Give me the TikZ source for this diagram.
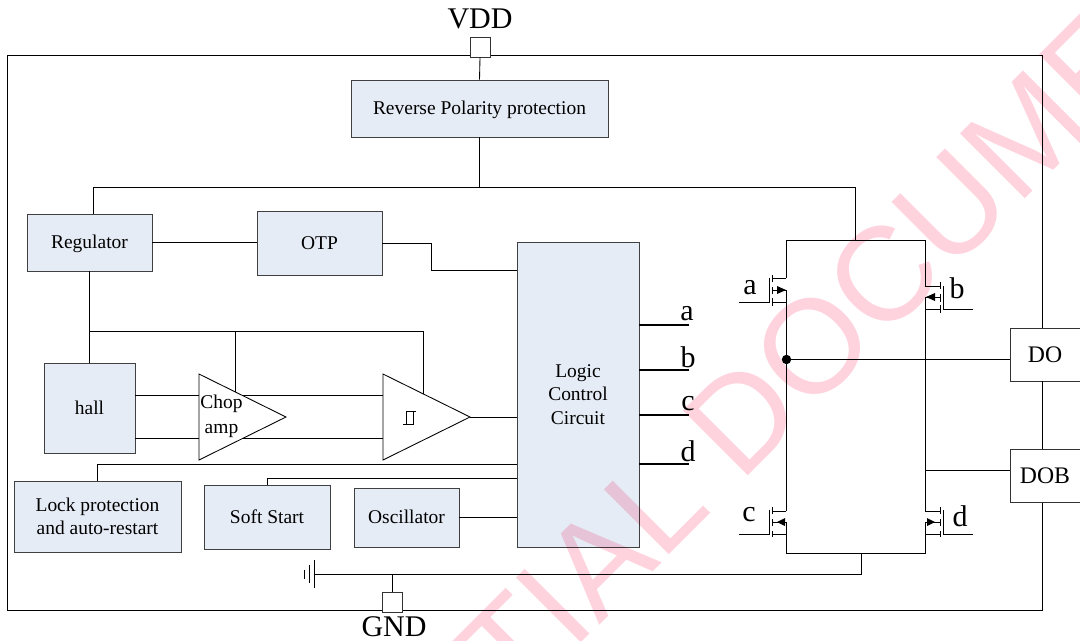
\documentclass[tikz,border=0pt]{standalone}
\usepackage{fontspec}
\setmainfont{Liberation Serif}
\newfontfamily\markfont{Liberation Sans}
\definecolor{blockfill}{HTML}{E6ECF6}
\definecolor{blockline}{HTML}{404040}
\definecolor{markpink}{HTML}{FFD3DE}
\tikzset{
  boxsize/.style 2 args={minimum width=#1*0.75pt,minimum height=#2*0.75pt},
  onelinebox/.style={draw=blockline,fill=blockfill,line width=0.7pt,inner sep=0pt,text height=9pt,text depth=0pt,font=\fontsize{14.6}{17.5}\selectfont},
  blockbox/.style={draw=blockline,fill=blockfill,line width=0.7pt,inner sep=0pt,align=center,font=\fontsize{14.6}{17.5}\selectfont},
  whitebox/.style={draw=black!80,fill=white,line width=0.7pt,inner sep=0pt,text height=11.8pt,text depth=0pt,font=\fontsize{17.8}{20}\selectfont},
  padbox/.style={draw=black!80,fill=white,line width=0.7pt,inner sep=0pt,boxsize={20}{20}},
  biglabel/.style={inner sep=0pt,font=\fontsize{22.5}{24}\selectfont},
  amplabel/.style={inner sep=0pt,align=center,font=\fontsize{14.6}{18.75}\selectfont},
  wire/.style={draw=black,line width=0.65pt},
  ampshape/.style={draw=black,fill=white,line width=0.65pt},
  watermark/.style={inner sep=0pt,text=markpink,rotate=45,anchor=base west,font=\markfont\fontsize{100}{100}\selectfont},
}
\begin{document}
\begin{tikzpicture}[x=0.75pt,y=-0.75pt]
  \useasboundingbox (0,0) rectangle (1080,640);
  % outer frame
  \draw[wire] (7,55) rectangle (1042,610);
  % blocks
  \node[onelinebox,boxsize={257}{57}] (reverse) at (479.5,108.5) {Reverse Polarity protection};
  \node[onelinebox,boxsize={125}{57}] (regulator) at (89.5,242.5) {Regulator};
  \node[onelinebox,boxsize={125}{64}] (otp) at (319.5,243) {OTP};
  \node[blockbox,boxsize={122}{305}] (logic) at (578,394.5) {Logic\\Control\\Circuit};
  \node[onelinebox,boxsize={91}{90}] (hall) at (89.5,408) {hall};
  \node[blockbox,boxsize={167}{71}] (lock) at (97.5,516.5) {Lock protection\\and auto-restart};
  \node[onelinebox,boxsize={126}{64}] (soft) at (267,517) {Soft Start};
  \node[onelinebox,boxsize={105}{59}] (osc) at (406.5,517.5) {Oscillator};
  % pads
  \node[padbox] (vddpad) at (480,47) {};
  \node[biglabel] (vddtext) at (480,19) {VDD};
  \node[padbox] (gndpad) at (392,602) {};
  \node[biglabel] (gndtext) at (394,627) {GND};
  \node[whitebox,boxsize={70}{53}] (dopad) at (1045,354.5) {DO};
  \node[whitebox,boxsize={70}{53}] (dobpad) at (1045,475.5) {DOB};
  % power and bus
  \draw[wire] (vddpad.south) -- (reverse.north);
  \coordinate (busleft) at (93,187);
  \coordinate (busright) at (855,187);
  \coordinate (swtl) at (786,240);
  \coordinate (swtr) at (925,240);
  \coordinate (swbl) at (786,553);
  \coordinate (swbr) at (925,553);
  \draw[wire] (reverse.south) -- (reverse.south |- busleft);
  \draw[wire] (regulator.north -| busleft) -- (busleft) -- (busright) -- (busright |- swtl);
  \draw[wire] (regulator.east) -- (regulator.east -| otp.west);
  \coordinate (otpjog) at (431,270);
  \draw[wire] (otp.east) -- (otp.east -| otpjog) -- (otpjog) -- (otpjog -| logic.west);
  \draw[wire] (regulator.south -| 89,0) -- (hall.north -| 89,0);
  % amplifiers
  \coordinate (vref) at (89,331);
  \coordinate (upin) at (0,395);
  \coordinate (loin) at (0,438);
  \draw[wire] (vref) -- (423,331) -- (423,394);
  \draw[wire] (235,331) -- (235,394);
  \draw[wire] (hall.east |- upin) -- (383,395);
  \draw[wire] (hall.east |- loin) -- (383,438);
  \coordinate (chopa) at (199,374);
  \coordinate (chopb) at (199,460);
  \coordinate (chopc) at (286,417);
  \coordinate (compa) at (383,374);
  \coordinate (compb) at (383,460);
  \coordinate (compc) at (470,417);
  \draw[ampshape] (chopa) -- (chopb) -- (chopc) -- cycle;
  \draw[ampshape] (compa) -- (compb) -- (compc) -- cycle;
  \node[amplabel] (choptext) at (221.5,416) {Chop\\amp};
  \draw[wire] (403,424) -- (413,424) -- (413,411);
  \draw[wire] (416,411) -- (406,411) -- (406,424);
  \draw[wire] (compc) -- (compc -| logic.west);
  % lower feeds
  \draw[wire] (lock.north -| 97,0) -- (97,464) -- (97,464 -| logic.west);
  \draw[wire] (soft.north) -- (267,478) -- (267,478 -| logic.west);
  \draw[wire] (osc.east) -- (osc.east -| logic.west);
  % logic outputs
  \coordinate (outa) at (689,325);
  \coordinate (outb) at (689,370);
  \coordinate (outc) at (689,415);
  \coordinate (outd) at (689,464);
  \foreach \outname in {outa,outb,outc,outd}
    \draw[line width=0.9pt] (\outname -| logic.east) -- (\outname);
  \node[biglabel] (labela) at (687,314) {a};
  \node[biglabel] (labelb) at (688,357) {b};
  \node[biglabel] (labelc) at (688,404) {c};
  \node[biglabel] (labeld) at (688,451) {d};
  % bridge
  \draw[wire] (786,278) -- (swtl) -- (swtr) -- (925,286);
  \draw[wire] (786,522) -- (swbl) -- (swbr) -- (925,522);
  \draw[wire] (786,290) -- (786,511);
  \draw[wire] (925,297) -- (925,511);
  \fill[black] (786.5,359.5) circle[radius=4.7];
  \draw[wire] (786,359.5) -- (786,359.5 -| dopad.west);
  \draw[wire] (925,470) -- (925,470 -| dobpad.west);
  \draw[wire] (dopad.south -| 1042,0) -- (dobpad.north -| 1042,0);
  % ground
  \coordinate (gndjoin) at (861,574);
  \coordinate (earth) at (314,574);
  \draw[wire] (861,553) -- (gndjoin) -- (earth);
  \draw[wire] (gndpad.north -| 392,0) -- (392,574);
  \draw[wire] (314,560) -- (314,588);
  \draw[wire] (309,565) -- (309,583);
  \draw[wire] (304,570) -- (304,579);
  % transistors
  \draw[wire] (786,278) -- (772,278) (786,302) -- (772,302) (786,290) -- (772,290);
  \fill[black] (786,290) -- (777,286) -- (777,294) -- cycle;
  \draw[wire] (772.5,275) -- (772.5,282) (772.5,287) -- (772.5,294) (772.5,298) -- (772.5,306);
  \draw[wire] (739,302) -- (769,302) -- (769,278);
  \node[biglabel] (gatea) at (750,288) {a};
  \draw[wire] (925,286) -- (940,286) (925,309) -- (940,309) (925,297) -- (940,297);
  \fill[black] (926,297) -- (935,293) -- (935,301) -- cycle;
  \draw[wire] (940,282) -- (940,289) (940,294) -- (940,302) (940,305) -- (940,313);
  \draw[wire] (973,309) -- (943,309) -- (943,286);
  \node[biglabel] (gateb) at (957,288) {b};
  \draw[wire] (786,511) -- (772,511) (786,534) -- (772,534) (786,522) -- (772,522);
  \fill[black] (777,522) -- (785,518) -- (785,526) -- cycle;
  \draw[wire] (772.5,507) -- (772.5,514) (772.5,519) -- (772.5,526) (772.5,531) -- (772.5,537);
  \draw[wire] (739,534) -- (769,534) -- (769,510);
  \node[biglabel] (gatec) at (749,515) {c};
  \draw[wire] (925,511) -- (940,511) (925,534) -- (940,534) (925,522) -- (940,522);
  \fill[black] (935,522) -- (927,518) -- (927,526) -- cycle;
  \draw[wire] (940,507) -- (940,514) (940,519) -- (940,526) (940,531) -- (940,537);
  \draw[wire] (973,534) -- (943,534) -- (943,510);
  \node[biglabel] (gated) at (960,516) {d};
  % watermark
  \begin{scope}[blend mode=multiply]
    \clip (0,0) rectangle (1080,640);
    \node[watermark] (markword) at (515,709) {TIAL DOCUME};
  \end{scope}
\end{tikzpicture}
\end{document}
